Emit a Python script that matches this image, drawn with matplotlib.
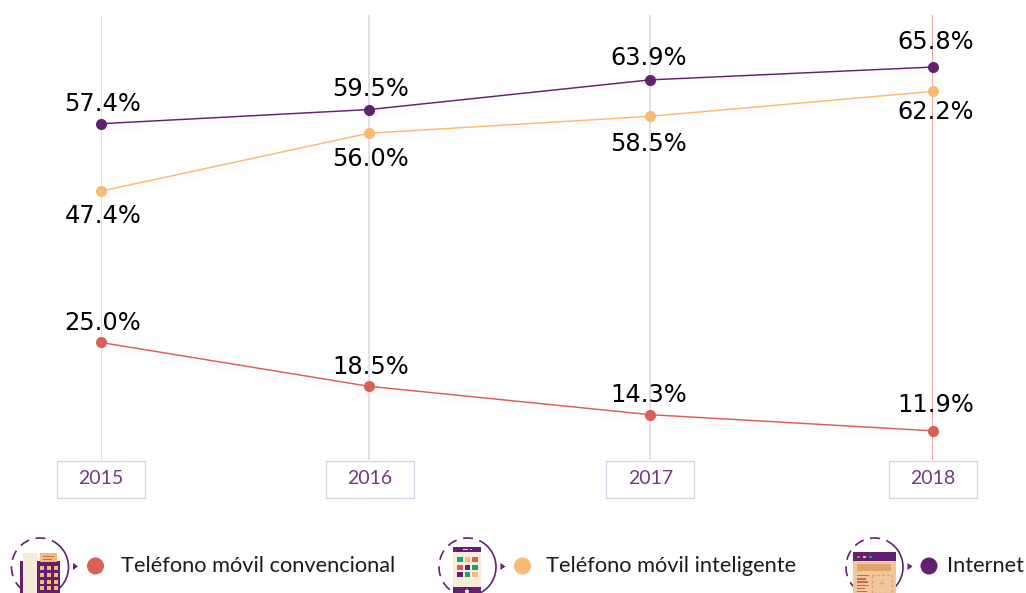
import matplotlib
matplotlib.use("Agg")
import matplotlib.pyplot as plt
from matplotlib.patches import Rectangle, Circle, Arc, Polygon

years = ["2015", "2016", "2017", "2018"]
convencional = [25.0, 18.5, 14.3, 11.9]
inteligente = [47.4, 56.0, 58.5, 62.2]
internet = [57.4, 59.5, 63.9, 65.8]
series_names = ["Teléfono móvil convencional", "Teléfono móvil inteligente", "Internet"]

RED, ORANGE, PURPLE = "#D95F57", "#F8BB74", "#62216F"
CREAM, TAN = "#F8EBDA", "#EFC99D"
GREEN = "#0FA67F"
slots = [0, 268.5, 549.5, 832.5]   # horizontal layout of the years, px from the first

W, H = 1026, 593
fig = plt.figure(figsize=(W / 100, H / 100), dpi=100, facecolor="white")

# overlay in pixel coordinates, for furniture only
ov = fig.add_axes([0, 0, 1, 1], zorder=0)
ov.set_xlim(0, W); ov.set_ylim(H, 0); ov.axis("off")

ax = fig.add_axes([100.5 / W, (H - 460) / H, 832.5 / W, 445 / H], zorder=1)
ax.patch.set_alpha(0)
ax.set_xlim(0, 832.5)
ax.set_ylim(7.58, 73.51)
ax.axis("off")

for i, s in enumerate(slots):
    if i == 3:
        ax.axvline(s, color="#EBA5A0", lw=1.4, zorder=1)
    else:
        ax.axvline(s, color="#DCD6E6", lw=1.1, zorder=1)

dx_px = [2.5, 1.5, -1, 3]
label_pos = {
    "c": (convencional, RED, [19.5, 19, 19.5, 25.5]),
    "s": (inteligente, ORANGE, [-25, -26, -27.5, -20.5]),
    "i": (internet, PURPLE, [20, 20.5, 21.5, 25]),
}
for vals, col, offs in label_pos.values():
    ax.plot(slots, [v - 0.6 for v in vals], color="#000000", alpha=0.012, lw=6, zorder=1.5)
    ax.plot(slots, vals, color=col, lw=1.05, zorder=2, marker="o", ms=8, mew=0, clip_on=False)
    for s, v, o, d in zip(slots, vals, offs, dx_px):
        ax.annotate(f"{v:.1f}%", (s, v), xytext=(d * 0.72, o * 0.72), textcoords="offset points",
                    ha="center", va="center", fontsize=17.4, color="#000000",
                    family="DejaVu Sans", zorder=4)

# year boxes
boxes = [(56.5, 145), (325.5, 413.5), (606, 694), (888.5, 976.5)]
for (x0, x1), y in zip(boxes, years):
    ov.add_patch(Rectangle((x0, 460.5), x1 - x0, 37, fc="white", ec="#E2D2E8", lw=1.0))
    ov.text((x0 + x1) / 2 + 0.5, 478.5, y, ha="center", va="center", fontsize=14,
            color="#6F3A80", family="Lato")

def ring(cx):
    cy = 567
    ov.add_patch(Arc((cx, cy), 57, 58, theta1=-62, theta2=62, ec=PURPLE, lw=1.2, zorder=3))
    ov.add_patch(Arc((cx, cy), 57, 58, theta1=62, theta2=298, ec=PURPLE, lw=1.2, ls=(0, (6, 4)), zorder=3))
    ov.add_patch(Polygon([[cx + 33, cy - 4], [cx + 38, cy - 0.5], [cx + 33, cy + 3]], fc=PURPLE, ec="none", zorder=3))

def rect(x, y, w, h, c, z=4):
    ov.add_patch(Rectangle((x, y), w, h, fc=c, ec="none", zorder=z))

# icon 1: desk phone
ring(40)
rect(20, 561, 40, 32, PURPLE)
rect(23, 553, 14, 40, CREAM, 5)
rect(40, 553, 17, 9, ORANGE, 5)
rect(43, 556, 11, 1, RED, 6); rect(43, 558.5, 9, 1, RED, 6)
for yy in (566, 573, 579.5, 586):
    for xx in (40, 47, 54):
        rect(xx, yy, 4, 4, ORANGE, 5)

# icon 2: phone with apps
ring(467.5)
rect(453, 547, 28, 46, CREAM)
rect(453, 547, 28, 5, PURPLE, 5)
rect(453, 587, 28, 6, PURPLE, 5)
app_cols = [[GREEN, ORANGE, RED], [RED, PURPLE, GREEN], [PURPLE, GREEN, ORANGE]]
for yy, row in zip((557, 564.7, 572), app_cols):
    for xx, col in zip((457, 464.7, 472.3), row):
        rect(xx, yy, 5.5, 5, col, 6)
rect(463, 548.5, 5, 1.6, CREAM, 6); rect(470, 548.5, 2, 1.6, CREAM, 6)
ov.add_patch(Circle((467, 591.5), 2, fc=CREAM, ec="none", zorder=6))

# icon 3: browser window
ring(874.5)
rect(853, 552, 43, 41, TAN)
rect(853, 552, 43, 9, PURPLE, 5)
for xx, c in zip((857, 863, 869), [RED, ORANGE, GREEN]):
    rect(xx, 555.5, 2.6, 2.6, c, 6)
rect(857, 564, 34, 7, "#DFA46E", 5)
for i, w_ in enumerate([12, 9, 11, 12, 8, 10]):
    rect(857, 575 + i * 3.2, w_, 1.4, RED, 6)
ov.add_patch(Rectangle((871.5, 574.5), 20.5, 18, fc="none", ec="#E2A468", lw=1, ls=(0, (2, 1.5)), zorder=6))
ov.text(881.5, 583, "+", ha="center", va="center", fontsize=8, color="#E2A468", zorder=6, family="Lato")

# legend
legend_items = [(95.5, 121, RED), (522.5, 546.5, ORANGE), (929, 947, PURPLE)]
for (dx, tx, col), name in zip(legend_items, series_names):
    ov.add_patch(Circle((dx, 566), 8.5, fc=col, ec="none", zorder=4))
    ov.text(tx, 565.5, name, ha="left", va="center", fontsize=15.7, color="#1c1c1c", family="Lato", zorder=4)

fig.savefig("out.png", dpi=100)
